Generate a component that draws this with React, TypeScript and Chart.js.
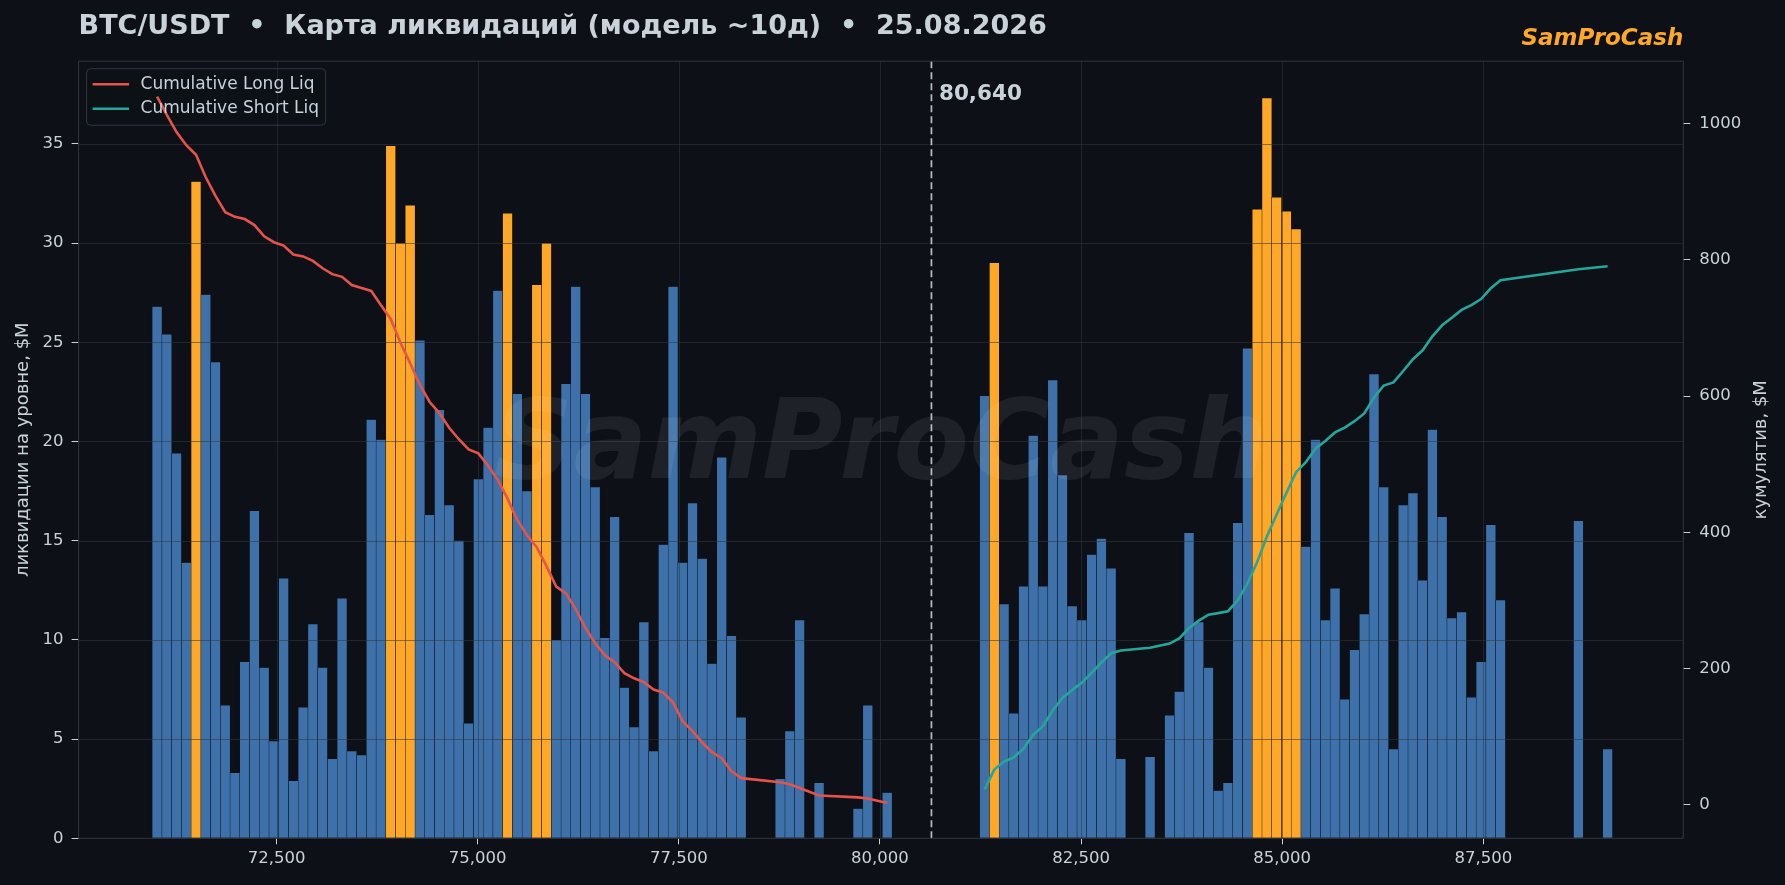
import React, { useEffect, useRef } from "react";
import Chart from "chart.js/auto";

// --- data ---
const binStart = 70955; // left edge of the first price bin, $
const binStep = 121.0; // width of one price bin, $
const spotPrice = 80640;
const hotThreshold = 27.85; // bins at or above this are highlighted

// liquidations per bin, $M (150 bins, low price -> high price)
const liqLevels = [
  26.8, 25.4, 19.4, 13.9, 33.1, 27.4, 24.0, 6.7, 3.3, 8.9,
  16.5, 8.6, 4.9, 13.1, 2.9, 6.6, 10.8, 8.6, 4.0, 12.1,
  4.4, 4.2, 21.1, 20.1, 34.9, 30.0, 31.9, 25.1, 16.3, 21.6,
  16.8, 15.0, 5.8, 18.1, 20.7, 27.6, 31.5, 22.4, 17.5, 27.9,
  30.0, 10.0, 22.9, 27.8, 22.4, 17.7, 10.1, 16.2, 7.6, 5.6,
  10.9, 4.4, 14.8, 27.8, 13.9, 16.9, 14.1, 8.8, 19.2, 10.2,
  6.1, 0, 0, 0, 3.0, 5.4, 11.0, 0, 2.8, 0,
  0, 0, 1.5, 6.7, 0, 2.3, 0, 0, 0, 0,
  0, 0, 0, 0, 0, 22.3, 29.0, 11.8, 6.3, 12.7,
  20.3, 12.7, 23.1, 18.3, 11.7, 11.0, 14.3, 15.1, 13.6, 4.0,
  0, 0, 4.1, 0, 6.2, 7.4, 15.4, 10.9, 8.6, 2.4,
  2.8, 15.9, 24.7, 31.7, 37.3, 32.3, 31.6, 30.7, 14.7, 20.1,
  11.0, 12.6, 7.0, 9.5, 11.3, 23.4, 17.7, 4.5, 16.8, 17.4,
  13.0, 20.6, 16.2, 11.1, 11.4, 7.1, 8.9, 15.8, 12.0, 0,
  0, 0, 0, 0, 0, 0, 16.0, 0, 0, 4.5,
];

const xTickStep = 2500;
const leftTickStep = 5;
const rightTickStep = 200;

const titleText = "BTC/USDT  •  Карта ликвидаций (модель ~10д)  •  25.08.2026";
const brandText = "SamProCash";
const leftAxisTitle = "ликвидации на уровне, $M";
const rightAxisTitle = "кумулятив, $M";
const longLabel = "Cumulative Long Liq";
const shortLabel = "Cumulative Short Liq";

// --- look ---
const W = 1785;
const H = 885;
const FONT = '"DejaVu Sans", "Noto Sans", sans-serif';
const BG = "#0d1117";
const TEXT = "#c9d1d9";
const SPINE = "#30363d";
const GRID = "rgba(48,54,61,0.55)";
const BLUE = "#3e71a9";
const ORANGE = "#ffa726";
const RED = "#e5534b";
const TEAL = "#26a69a";

// derived series
const centers = liqLevels.map((_, i) => binStart + binStep * (i + 0.5));
const longBins = liqLevels.map((v, i) => i).filter((i) => centers[i] < spotPrice && liqLevels[i] > 0);
const shortBins = liqLevels.map((v, i) => i).filter((i) => centers[i] > spotPrice && liqLevels[i] > 0);

// cumulative from the spot price outwards, one point per filled bin
const longCum: { x: number; y: number }[] = [];
let acc = 0;
for (let k = longBins.length - 1; k >= 0; k--) {
  const i = longBins[k];
  acc += liqLevels[i];
  longCum.unshift({ x: centers[i], y: acc });
}
const shortCum: { x: number; y: number }[] = [];
acc = 0;
shortBins.forEach((i) => {
  acc += liqLevels[i];
  shortCum.push({ x: centers[i], y: acc });
});

const cumValues = [...longCum, ...shortCum].map((p) => p.y);
const cumLo = Math.min(...cumValues);
const cumHi = Math.max(...cumValues);
const cumPad = (cumHi - cumLo) * 0.05;
const leftMax = Math.max(...liqLevels) * 1.05;

const overlay = {
  id: "overlay",
  beforeDraw(chart: any) {
    const { ctx } = chart;
    ctx.save();
    ctx.fillStyle = BG;
    ctx.fillRect(0, 0, chart.width, chart.height);
    ctx.restore();
  },
  afterDatasetDraw(chart: any, args: any) {
    if (args.index !== 0) return;
    const { ctx, chartArea: a, scales } = chart;
    ctx.save();
    ctx.beginPath();
    ctx.rect(a.left, a.top, a.right - a.left, a.bottom - a.top);
    ctx.clip();
    // grid over the bars, under the lines
    ctx.strokeStyle = GRID;
    ctx.lineWidth = 1;
    scales.y.ticks.forEach((t: any) => {
      const py = Math.round(scales.y.getPixelForValue(t.value)) + 0.5;
      ctx.beginPath();
      ctx.moveTo(a.left, py);
      ctx.lineTo(a.right, py);
      ctx.stroke();
    });
    scales.x.ticks.forEach((t: any) => {
      const px = Math.round(scales.x.getPixelForValue(t.value)) + 0.5;
      ctx.beginPath();
      ctx.moveTo(px, a.top);
      ctx.lineTo(px, a.bottom);
      ctx.stroke();
    });
    // watermark
    ctx.font = `italic bold 110px ${FONT}`;
    ctx.fillStyle = "rgba(255,255,255,0.07)";
    ctx.textAlign = "center";
    ctx.textBaseline = "middle";
    ctx.fillText(brandText, (a.left + a.right) / 2, (a.top + a.bottom) / 2);
    ctx.restore();
  },
  beforeDatasetsDraw(chart: any) {
    // legend frame sits under the lines, so they show through it
    const { ctx, chartArea: a } = chart;
    ctx.save();
    ctx.beginPath();
    ctx.roundRect(a.left + 8, a.top + 7.5, 239, 56.5, 4);
    ctx.fillStyle = "rgba(13,17,23,0.8)";
    ctx.fill();
    ctx.strokeStyle = SPINE;
    ctx.lineWidth = 1;
    ctx.stroke();
    ctx.restore();
  },
  afterDatasetsDraw(chart: any) {
    const { ctx, chartArea: a, scales } = chart;
    ctx.save();
    // spot price line
    const px = scales.x.getPixelForValue(spotPrice);
    ctx.strokeStyle = "rgba(201,209,217,0.9)";
    ctx.lineWidth = 1.7;
    ctx.setLineDash([7, 4]);
    ctx.beginPath();
    ctx.moveTo(px, a.top);
    ctx.lineTo(px, a.bottom);
    ctx.stroke();
    ctx.setLineDash([]);
    ctx.font = `bold 21.5px ${FONT}`;
    ctx.fillStyle = TEXT;
    ctx.textAlign = "left";
    ctx.textBaseline = "middle";
    ctx.fillText(spotPrice.toLocaleString("en-US"), px + 7.5, a.top + 33);
    // spines
    ctx.strokeStyle = SPINE;
    ctx.lineWidth = 1;
    ctx.strokeRect(a.left, a.top, a.right - a.left, a.bottom - a.top);
    ctx.restore();
  },
  afterDraw(chart: any) {
    const { ctx, chartArea: a } = chart;
    ctx.save();
    // title
    ctx.font = `bold 27px ${FONT}`;
    ctx.fillStyle = TEXT;
    ctx.textAlign = "left";
    ctx.textBaseline = "middle";
    ctx.fillText(titleText, a.left, 27);
    // brand
    ctx.font = `italic bold 23px ${FONT}`;
    ctx.fillStyle = ORANGE;
    ctx.textAlign = "right";
    ctx.fillText(brandText, a.right, 39);
    // axis titles, both reading bottom to top
    const mid = (a.top + a.bottom) / 2;
    ctx.font = `18px ${FONT}`;
    ctx.fillStyle = TEXT;
    ctx.textAlign = "center";
    [
      [23, leftAxisTitle],
      [chart.width - 23.5, rightAxisTitle],
    ].forEach(([x, text]) => {
      ctx.save();
      ctx.translate(x as number, mid);
      ctx.rotate(-Math.PI / 2);
      ctx.fillText(text as string, 0, 0);
      ctx.restore();
    });
    // legend entries
    const lx = a.left + 8;
    const ly = a.top + 7.5;
    ctx.font = `17px ${FONT}`;
    ctx.textAlign = "left";
    chart.data.datasets.slice(1).forEach((ds: any, k: number) => {
      const ry = ly + 15.5 + k * 24.5;
      ctx.strokeStyle = ds.borderColor;
      ctx.lineWidth = 2.6;
      ctx.beginPath();
      ctx.moveTo(lx + 6, ry);
      ctx.lineTo(lx + 42.5, ry);
      ctx.stroke();
      ctx.fillStyle = TEXT;
      ctx.fillText(ds.label, lx + 54, ry);
    });
    ctx.restore();
  },
};

export default function App() {
  const canvasRef = useRef<HTMLCanvasElement>(null);
  const chartRef = useRef<Chart>();

  useEffect(() => {
    if (chartRef.current) chartRef.current.destroy();
    const ctx = canvasRef.current?.getContext("2d");
    if (!ctx) return;

    const tickFont = { family: FONT, size: 16.5 };

    chartRef.current = new Chart(ctx, {
      type: "bar",
      data: {
        datasets: [
          {
            type: "bar",
            label: "liq",
            order: 3,
            data: liqLevels.map((v, i) => ({ x: centers[i], y: v > 0 ? v : null })),
            backgroundColor: liqLevels.map((v) => (v >= hotThreshold ? ORANGE : BLUE)),
            borderColor: BG,
            borderWidth: { left: 0.5, right: 0.5, top: 0.5, bottom: 0 },
            borderSkipped: false,
            barPercentage: 1,
            categoryPercentage: 1,
            yAxisID: "y",
          } as any,
          {
            type: "line",
            label: longLabel,
            order: 1,
            data: longCum,
            borderColor: RED,
            borderWidth: 2.6,
            pointRadius: 0,
            tension: 0,
            yAxisID: "y1",
          },
          {
            type: "line",
            label: shortLabel,
            order: 1,
            data: shortCum,
            borderColor: TEAL,
            borderWidth: 2.6,
            pointRadius: 0,
            tension: 0,
            yAxisID: "y1",
          },
        ],
      },
      options: {
        responsive: false,
        animation: false,
        layout: { padding: { top: 61.2, left: 0, right: 0, bottom: 0 } },
        plugins: {
          legend: { display: false },
          tooltip: { enabled: false },
        },
        scales: {
          x: {
            type: "linear",
            min: 70040,
            max: 89985,
            offset: false,
            border: { display: false },
            grid: { offset: false, drawOnChartArea: false, drawTicks: true, tickLength: 6, tickColor: TEXT },
            ticks: {
              autoSkip: false,
              maxRotation: 0,
              color: TEXT,
              font: tickFont,
              padding: 5,
              callback: (v: any) => Number(v).toLocaleString("en-US"),
            },
            afterBuildTicks: (s: any) => {
              const t = [];
              for (let v = Math.ceil(s.min / xTickStep) * xTickStep; v <= s.max; v += xTickStep) t.push({ value: v });
              s.ticks = t;
            },
            afterFit: (s: any) => {
              s.height = 46.7;
            },
          },
          y: {
            position: "left",
            min: 0,
            max: leftMax,
            border: { display: false },
            grid: { drawOnChartArea: false, drawTicks: true, tickLength: 7, tickColor: TEXT },
            ticks: { stepSize: leftTickStep, includeBounds: false, color: TEXT, font: tickFont, padding: 8 },
            afterFit: (s: any) => {
              s.width = 78.6;
            },
          },
          y1: {
            position: "right",
            min: cumLo - cumPad,
            max: cumHi + cumPad,
            border: { display: false },
            grid: { drawOnChartArea: false, drawTicks: true, tickLength: 7, tickColor: TEXT },
            ticks: {
              stepSize: rightTickStep,
              includeBounds: false,
              color: TEXT,
              font: tickFont,
              padding: 9,
              callback: (v: any) => String(v),
            },
            afterFit: (s: any) => {
              s.width = 101.7;
            },
          },
        },
      },
      plugins: [overlay],
    });

    return () => {
      if (chartRef.current) {
        chartRef.current.destroy();
        chartRef.current = undefined;
      }
    };
  }, []);

  return (
    <div style={{ position: "fixed", left: 0, top: 0, width: W, height: H, background: BG }}>
      <canvas ref={canvasRef} width={W} height={H} style={{ display: "block", width: W, height: H }} />
    </div>
  );
}
